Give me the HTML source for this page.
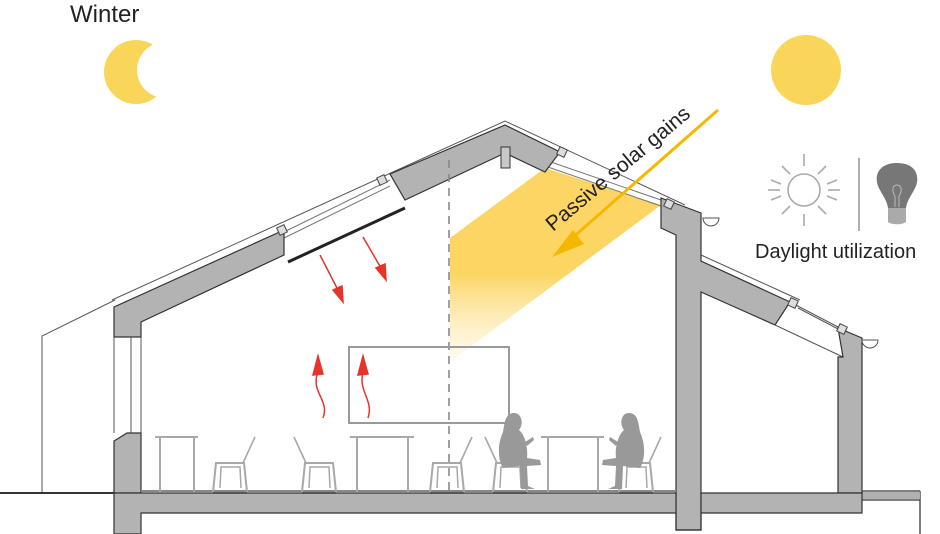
<!DOCTYPE html>
<html><head><meta charset="utf-8"><style>
html,body{margin:0;padding:0;background:#fff;}
svg{display:block;}
text{font-family:"Liberation Sans","DejaVu Sans",sans-serif;}
</style></head><body>
<svg width="940" height="534" viewBox="0 0 940 534" xmlns="http://www.w3.org/2000/svg">
<defs>
<linearGradient id="bg" x1="0" y1="165" x2="0" y2="362" gradientUnits="userSpaceOnUse">
<stop offset="0" stop-color="#fbd055" stop-opacity="0.9"/>
<stop offset="0.55" stop-color="#fcd35a" stop-opacity="0.95"/>
<stop offset="1" stop-color="#fde9b0" stop-opacity="0.2"/>
</linearGradient>
<mask id="moonm">
<rect x="0" y="0" width="300" height="200" fill="#fff"/>
<circle cx="165" cy="70" r="28" fill="#000"/>
</mask>
<g id="chairR">
<path d="M0 492 L3 463 L31 463 L34 492" fill="none" stroke="#a8a8a8" stroke-width="2"/>
<path d="M7 488 L8 467 L27 467 L28 488" fill="none" stroke="#a8a8a8" stroke-width="1.5"/>
<line x1="30" y1="463" x2="42" y2="437" stroke="#a8a8a8" stroke-width="1.6"/>
<line x1="0" y1="493" x2="34" y2="493" stroke="#555" stroke-width="2"/>
</g>
<g id="chairL">
<path d="M0 492 L3 463 L31 463 L34 492" fill="none" stroke="#a8a8a8" stroke-width="2"/>
<path d="M7 488 L8 467 L27 467 L28 488" fill="none" stroke="#a8a8a8" stroke-width="1.5"/>
<line x1="4" y1="463" x2="-8" y2="437" stroke="#a8a8a8" stroke-width="1.6"/>
<line x1="0" y1="493" x2="34" y2="493" stroke="#555" stroke-width="2"/>
</g>
</defs>

<text x="70" y="22" font-size="24" fill="#222">Winter</text>
<circle cx="136" cy="72" r="32" fill="#f9d659" mask="url(#moonm)"/>
<circle cx="806" cy="70" r="35" fill="#f9d659"/>

<path d="M42 493 L42 336 L115 300" fill="none" stroke="#555" stroke-width="1"/>
<line x1="0" y1="493" x2="114" y2="493" stroke="#333" stroke-width="2"/>
<path d="M861 491 L920 491 M861 500 L920 500 M920 491 L920 534" fill="none" stroke="#555" stroke-width="1.5"/>
<rect x="861" y="492" width="59" height="7" fill="#b0b0b0"/>

<polygon points="450,238 545,168 661,205 450,362" fill="url(#bg)"/>

<path d="M112 300 L505 121 L685 205" fill="none" stroke="#555" stroke-width="1"/>
<path d="M284 232 L390 180 M284 238 L390 186 M545 160 L661 200 M545 166 L661 206" stroke="#777" stroke-width="1" fill="none"/>
<polygon points="114,307 284,230 284,255 141,322 141,337 114,337" fill="#b3b3b3" stroke="#333" stroke-width="1.2"/>
<polygon points="390,174 505,125 560,152 545,172 505,153 405,200" fill="#b3b3b3" stroke="#333" stroke-width="1.2"/>
<polygon points="661,198 685,207 701,213 701,261 790,302 775,325 701,292 701,530 676,530 676,235 661,228" fill="#b3b3b3" stroke="#333" stroke-width="1.2"/>
<rect x="501" y="147" width="9" height="21" fill="#c8c8c8" stroke="#333"/>
<path d="M701 255 L800 300 M790 302 L840 328 M798 308 L840 330 M775 325 L843 357" stroke="#555" stroke-width="1" fill="none"/>
<polygon points="838,328 862,338 862,493 838,493 838,357 843,357" fill="#b3b3b3" stroke="#333" stroke-width="1.2"/>
<path d="M703 218 A8 8 0 0 0 719 218 Z M862 340 A8 8 0 0 0 878 340 Z" fill="#fff" stroke="#555"/>
<g stroke="#444" fill="#ddd" stroke-width="1">
<rect x="278" y="226" width="8" height="8" transform="rotate(-25 282 230)"/>
<rect x="378" y="176" width="8" height="8" transform="rotate(-25 382 180)"/>
<rect x="558" y="148" width="8" height="8" transform="rotate(25 562 152)"/>
<rect x="665" y="200" width="8" height="8" transform="rotate(25 669 204)"/>
<rect x="789" y="299" width="8" height="8" transform="rotate(25 793 303)"/>
<rect x="838" y="325" width="8" height="8" transform="rotate(25 842 329)"/>
</g>

<path d="M114 337 L114 433 M131 337 L131 433 M141 337 L141 433" stroke="#555" stroke-width="1"/>
<polygon points="114,441 127,433 141,433 141,493 114,493" fill="#b3b3b3" stroke="#333" stroke-width="1.2"/>
<polygon points="114,493 676,493 676,530 701,530 701,493 862,493 862,513 701,513 701,530 676,530 676,513 141,513 141,534 114,534" fill="#b3b3b3" stroke="#333" stroke-width="1.2"/>
<line x1="141" y1="491" x2="676" y2="491" stroke="#888" stroke-width="2"/>

<line x1="449" y1="160" x2="449" y2="492" stroke="#888" stroke-width="1.6" stroke-dasharray="8,6"/>
<line x1="288" y1="262" x2="405" y2="208" stroke="#222" stroke-width="3"/>

<g stroke="#e8332a" stroke-width="1.5" fill="#e8332a">
<line x1="320" y1="255" x2="338" y2="290"/><polygon points="343,302 333,290 342,286"/>
<line x1="363" y1="237" x2="381" y2="268"/><polygon points="386,280 376,268 385,264"/>
<path d="M323 418 C330 400 310 392 318 372" fill="none"/><polygon points="318,356 313,375 323,374"/>
<path d="M368 418 C374 400 358 392 363 372" fill="none"/><polygon points="363,356 358,375 368,374"/>
</g>

<rect x="349" y="347" width="160" height="76" fill="none" stroke="#999" stroke-width="2"/>

<line x1="718" y1="110" x2="570" y2="240" stroke="#f5b800" stroke-width="3"/>
<polygon points="552,257 573,230 584,244" fill="#f5b800"/>
<text x="0" y="0" font-size="21" fill="#222" transform="translate(553,232) rotate(-40)">Passive solar gains</text>

<g stroke="#a8a8a8" stroke-width="2" fill="none">
<path d="M155 437 L198 437 M160 437 L160 492 M194 437 L194 492"/>
<path d="M350 437 L414 437 M357 437 L357 492 M408 437 L408 492"/>
<path d="M541 437 L604 437 M548 437 L548 492 M598 437 L598 492"/>
</g>
<use href="#chairR" x="213" y="0"/>
<use href="#chairL" x="302" y="0"/>
<use href="#chairR" x="430" y="0"/>
<use href="#chairL" x="493" y="0"/>
<use href="#chairR" x="619" y="0"/>

<g fill="#999">
<path d="M513 413 C522 412 524 424 519 430 C526 436 528 450 527 458 L540 460 L541 465 L527 466 L528 486 L535 489 L521 489 L520 466 L503 468 C498 460 497 445 503 432 C505 420 506 414 513 413 Z"/>
<path d="M525 442 L533 437 L534 440 L527 446 Z"/>
<path d="M630 413 C621 412 619 424 624 430 C617 436 615 450 616 458 L603 460 L602 465 L616 466 L615 486 L608 489 L622 489 L623 466 L640 468 C645 460 646 445 640 432 C638 420 637 414 630 413 Z"/>
<path d="M618 442 L610 437 L609 440 L616 446 Z"/>
</g>

<g stroke="#aaa" stroke-width="1.6" fill="none">
<circle cx="804" cy="190" r="16"/>
<line x1="804" y1="154" x2="804" y2="166"/><line x1="804" y1="214" x2="804" y2="226"/>
<line x1="768" y1="190" x2="780" y2="190"/><line x1="828" y1="190" x2="840" y2="190"/>
<line x1="782" y1="166" x2="790" y2="174"/><line x1="818" y1="174" x2="826" y2="166"/>
<line x1="782" y1="214" x2="790" y2="206"/><line x1="818" y1="206" x2="826" y2="214"/>
<line x1="771" y1="180" x2="781" y2="184"/><line x1="827" y1="184" x2="837" y2="180"/>
<line x1="771" y1="200" x2="781" y2="196"/><line x1="827" y1="196" x2="837" y2="200"/>
<line x1="859" y1="158" x2="859" y2="231" stroke="#999"/>
</g>
<path d="M897 163 C915 163 920 175 916 186 C912 195 907 200 906 208 L888 208 C887 200 882 195 878 186 C874 175 879 163 897 163 Z" fill="#777"/>
<path d="M888 208 L906 208 L906 222 C902 225 892 225 888 222 Z" fill="#aaa"/>
<path d="M895 207 L895 196 C891 190 893 185 897 185 C901 185 903 190 899 196 L899 207" fill="none" stroke="#bbb" stroke-width="1"/>
<text x="755" y="258" font-size="20" fill="#222">Daylight utilization</text>
</svg>
</body></html>
